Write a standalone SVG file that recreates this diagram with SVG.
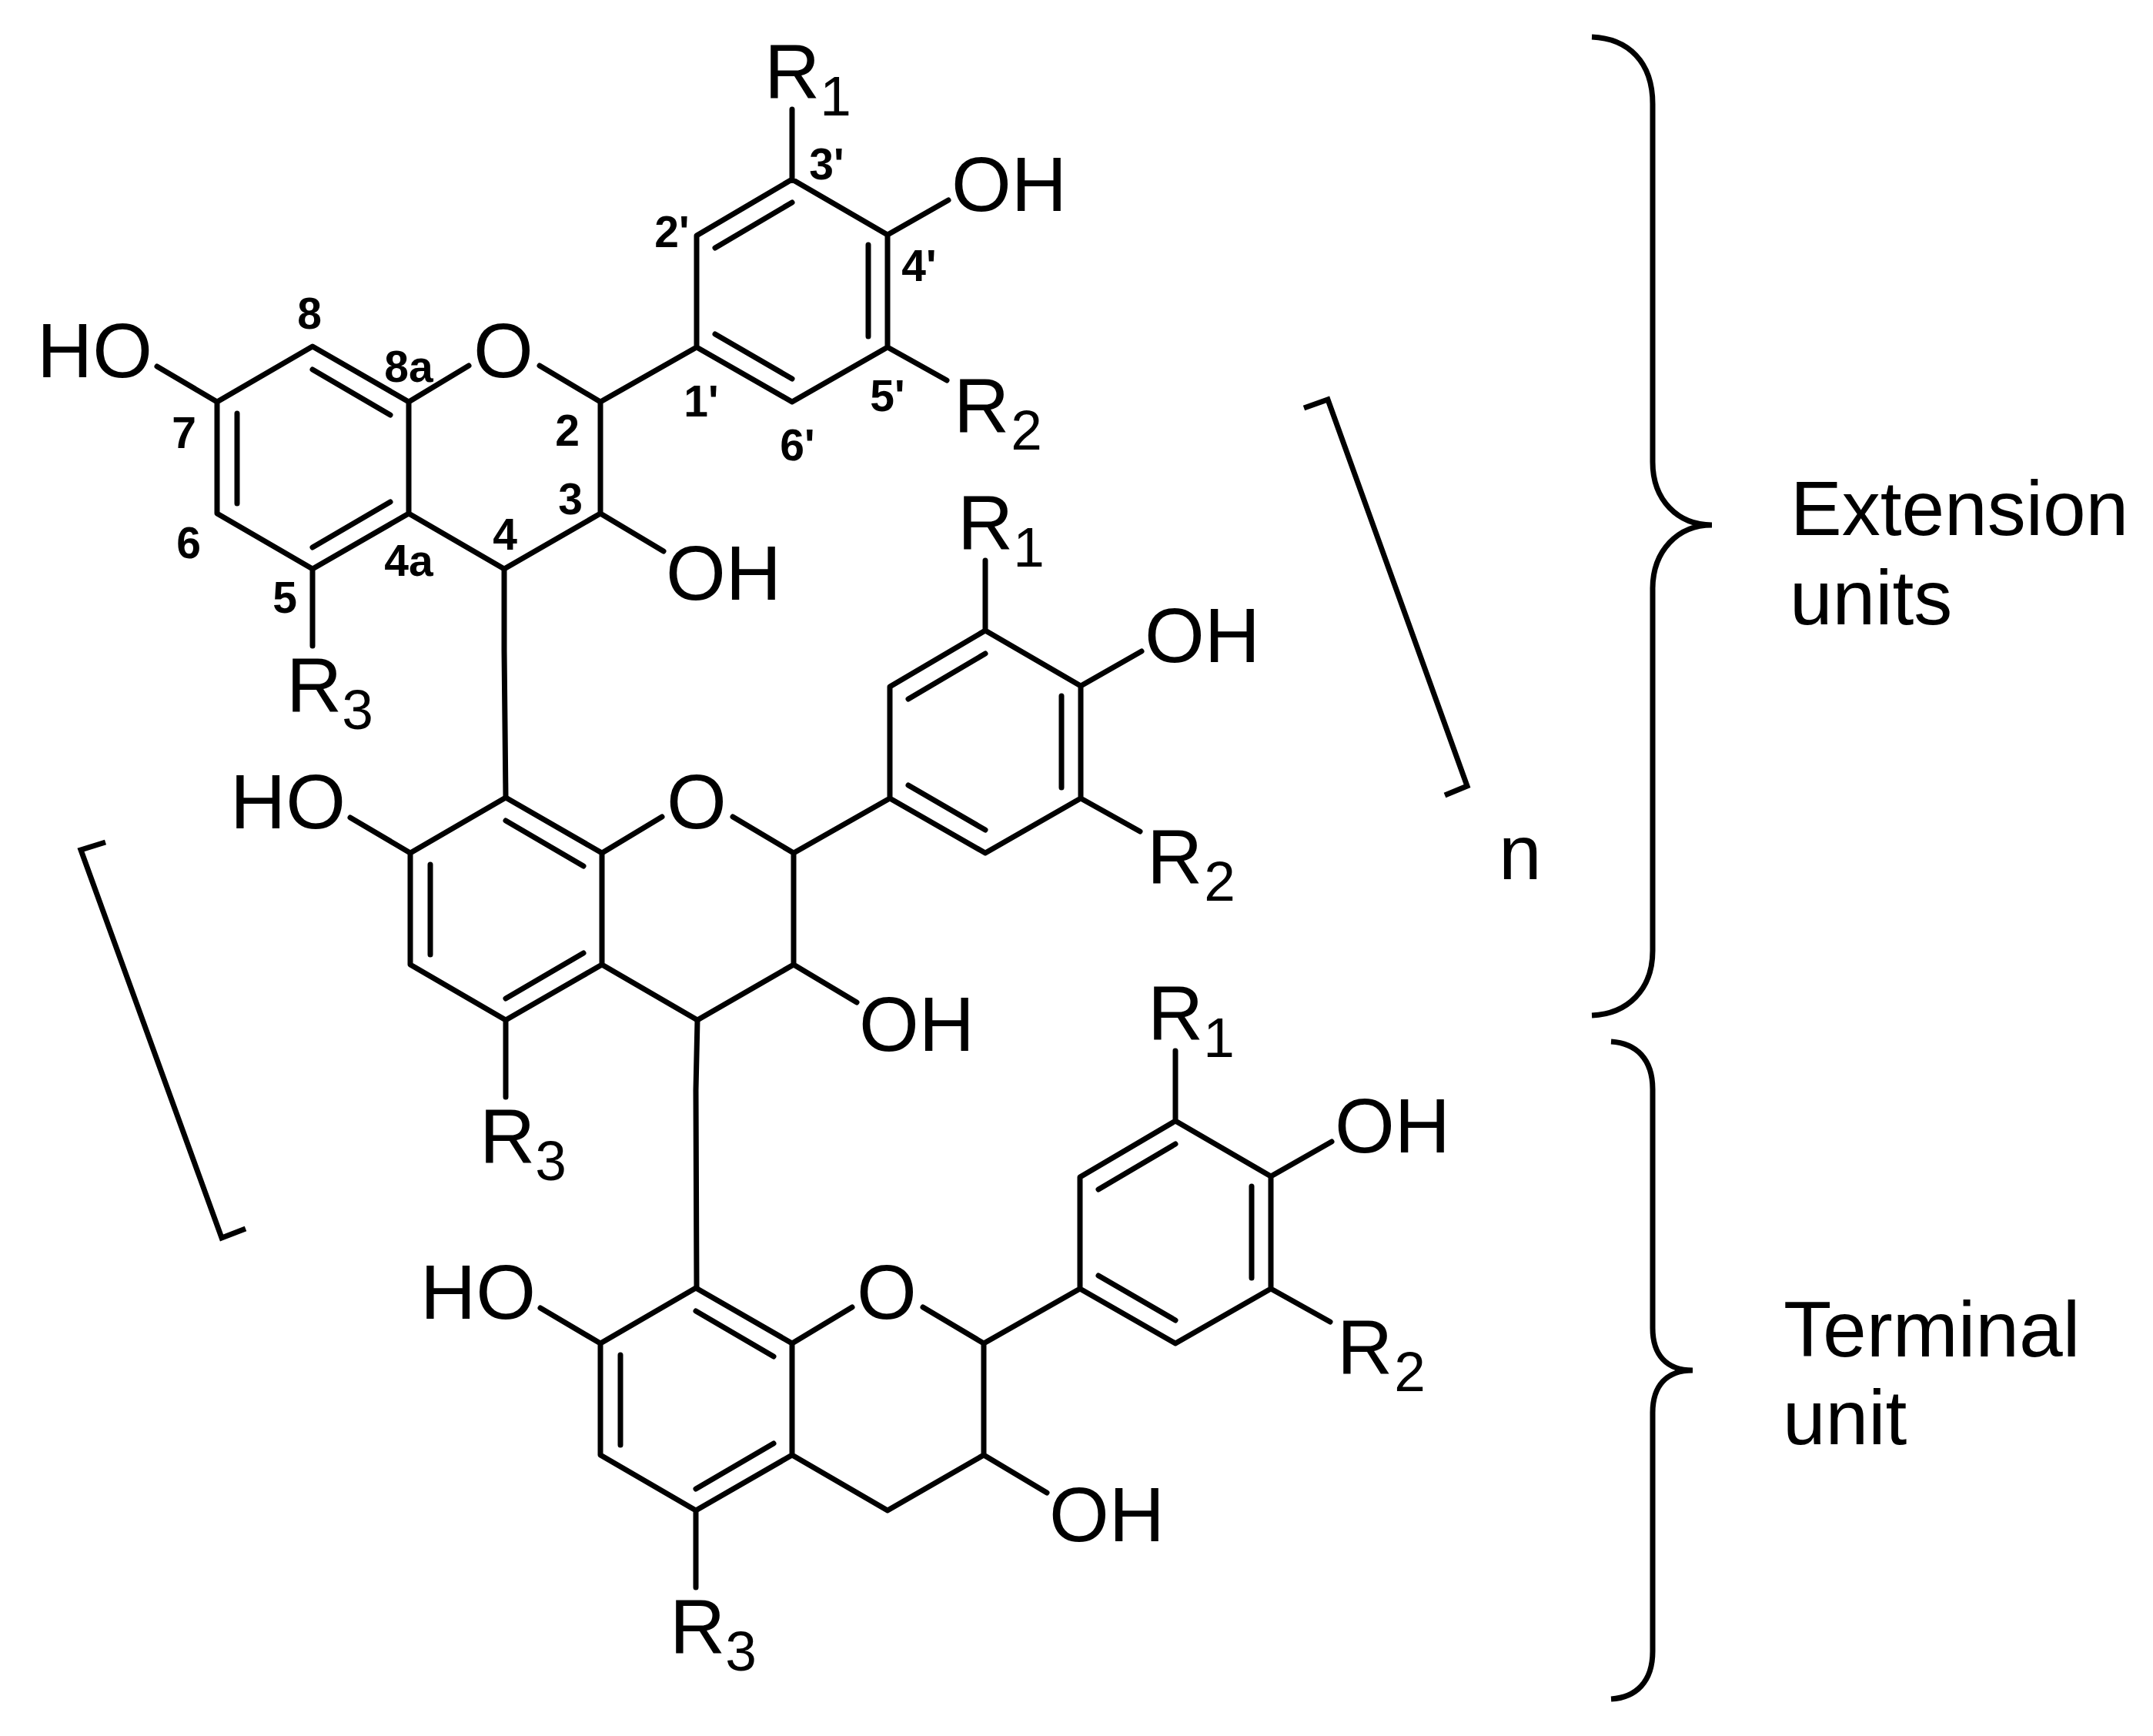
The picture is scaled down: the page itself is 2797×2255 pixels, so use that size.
<svg xmlns="http://www.w3.org/2000/svg" width="2797" height="2255" viewBox="0 0 2797 2255">
<style>
.b{fill:none;stroke:#000;stroke-width:7;stroke-linecap:round;stroke-linejoin:round}
.k{fill:none;stroke:#000;stroke-width:7;stroke-linecap:butt;stroke-linejoin:miter}
text{font-family:"Liberation Sans",Arial,sans-serif;fill:#000}
.a{font-size:100px}
.m{text-anchor:middle}
.s{font-size:73px}
.n{font-size:57px;font-weight:700;text-anchor:middle}
</style>
<defs>
<path id="unit-bonds" d="M282 522L406 450L531 522L531 667L406 739L282 667ZM406 480L507 539M308 537L308 654M507 652L406 711M531 522L609 475M701 475L780 522L780 667L655 739L531 667M780 667L862 716M780 522L905 451M905 451L905 306L1029 233L1153 305L1153 451L1029 522ZM929 322L1029 263M1128 318L1128 437M1029 492L929 434M1029 233L1029 142M1153 305L1232 260M1153 451L1230 494M282 522L204 476M406 739L406 839"/>
</defs>
<rect width="2797" height="2255" fill="#fff"/>
<g id="connectors">
<use href="#unit-bonds" class="b"/>
<use href="#unit-bonds" class="b" transform="translate(251 586)"/>
<use href="#unit-bonds" class="b" transform="translate(498 1223)"/>
<path class="b" d="M655 739L655 845L657 1036M906 1325L904 1416L905 1673"/>
<path class="k" d="M1694 530L1725 519L1906 1021L1877 1033"/>
<path class="k" d="M137 1094L105 1104L288 1608L319 1596"/>
<path class="k" d="M2068 48C2115 50 2147 80 2147 135L2147 600C2147 650 2180 682 2224 682C2180 682 2147 715 2147 765L2147 1235C2147 1285 2115 1317 2068 1319"/>
<path class="k" d="M2093 1353C2125 1355 2147 1375 2147 1415L2147 1725C2147 1760 2165 1780 2199 1780C2165 1780 2147 1800 2147 1835L2147 2145C2147 2185 2125 2205 2093 2207"/>
</g>
<g id="unit-1">
<text class="a" x="48" y="490">HO</text>
<text class="a m" x="654" y="490">O</text>
<text class="a" x="1236" y="274">OH</text>
<text class="a" x="865" y="779">OH</text>
<text class="a" x="993" y="128">R<tspan class="s" dy="22">1</tspan></text>
<text class="a" x="1239" y="562">R<tspan class="s" dx="2" dy="22">2</tspan></text>
<text class="a" x="372" y="925">R<tspan class="s" dy="22">3</tspan></text>
<text class="n" x="402" y="427">8</text>
<text class="n" x="531" y="496">8a</text>
<text class="n" x="239" y="582">7</text>
<text class="n" x="245" y="725">6</text>
<text class="n" x="370" y="796">5</text>
<text class="n" x="531" y="748">4a</text>
<text class="n" x="656" y="714">4</text>
<text class="n" x="741" y="668">3</text>
<text class="n" x="737" y="579">2</text>
<text class="n" x="911" y="541">1'</text>
<text class="n" x="873" y="321">2'</text>
<text class="n" x="1074" y="233">3'</text>
<text class="n" x="1194" y="365">4'</text>
<text class="n" x="1153" y="534">5'</text>
<text class="n" x="1036" y="598">6'</text>
</g>
<g id="unit-2" transform="translate(251 586)">
<text class="a" x="48" y="490">HO</text>
<text class="a m" x="654" y="490">O</text>
<text class="a" x="1236" y="274">OH</text>
<text class="a" x="865" y="779">OH</text>
<text class="a" x="993" y="128">R<tspan class="s" dy="22">1</tspan></text>
<text class="a" x="1239" y="562">R<tspan class="s" dx="2" dy="22">2</tspan></text>
<text class="a" x="372" y="925">R<tspan class="s" dy="22">3</tspan></text>
</g>
<g id="unit-3" transform="translate(498 1223)">
<text class="a" x="48" y="490">HO</text>
<text class="a m" x="654" y="490">O</text>
<text class="a" x="1236" y="274">OH</text>
<text class="a" x="865" y="779">OH</text>
<text class="a" x="993" y="128">R<tspan class="s" dy="22">1</tspan></text>
<text class="a" x="1239" y="562">R<tspan class="s" dx="2" dy="22">2</tspan></text>
<text class="a" x="372" y="925">R<tspan class="s" dy="22">3</tspan></text>
</g>
<g id="repeat-index"><text class="a" x="1947" y="1142">n</text></g>
<g id="extension-label"><text class="a" x="2326" y="695">Extension</text><text class="a" x="2325" y="811">units</text></g>
<g id="terminal-label"><text class="a" style="font-size:102px" x="2317" y="1762">Terminal</text><text class="a" x="2316" y="1876">unit</text></g>
</svg>
